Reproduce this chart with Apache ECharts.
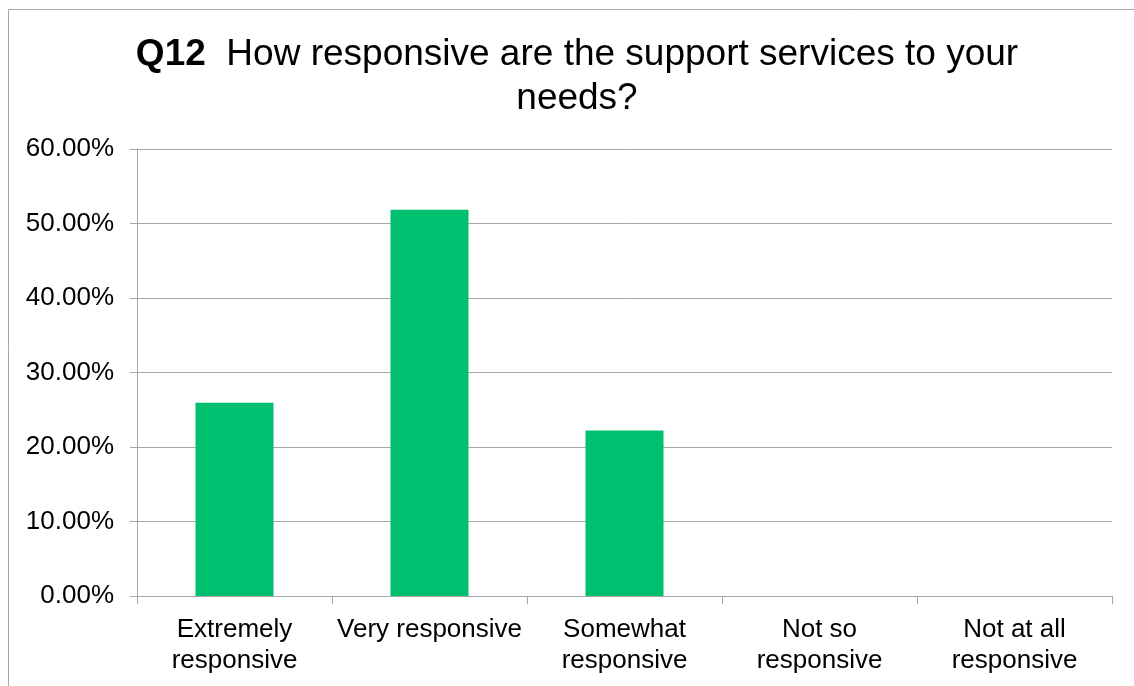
<!DOCTYPE html>
<html>
<head>
<meta charset="utf-8">
<script src="https://cdn.jsdelivr.net/npm/echarts@6/dist/echarts.min.js"></script>
<style>
  html, body { margin: 0; padding: 0; background: #fff; }
  #chart { width: 1134px; height: 686px; }
</style>
</head>
<body>
<div id="chart"></div>
<script>
// Survey answers and share of respondents (percent)
const categories = ['Extremely\nresponsive', 'Very responsive', 'Somewhat\nresponsive', 'Not so\nresponsive', 'Not at all\nresponsive'];
const shares = [25.93, 51.85, 22.22, 0, 0];
const yTicks = { min: 0, max: 60, interval: 10 };

const FONT = '"Liberation Sans", Arial, sans-serif';
const GRAY = '#a6a6a6';

const chart = echarts.init(document.getElementById('chart'), null, { renderer: 'canvas' });

chart.setOption({
  backgroundColor: '#ffffff',
  animation: false,
  title: {
    text: '{b|Q12}{n|  How responsive are the support services to your}\n{n|needs?}',
    left: 572,
    top: 28,
    textAlign: 'center',
    textStyle: {
      fontFamily: FONT,
      fontSize: 37,
      fontWeight: 'normal',
      color: '#000',
      lineHeight: 44,
      rich: {
        b: { fontFamily: FONT, fontSize: 37, fontWeight: 'bold', color: '#000', align: 'center', lineHeight: 44 },
        n: { fontFamily: FONT, fontSize: 37, fontWeight: 'normal', color: '#000', align: 'center', lineHeight: 44 }
      }
    }
  },
  graphic: [{
    type: 'rect',
    silent: true,
    z: -10,
    shape: { x: 8.5, y: 9.5, width: 1200, height: 800 },
    style: { fill: 'none', stroke: GRAY, lineWidth: 1 }
  }],
  grid: { left: 137, right: 22, top: 149, bottom: 90, containLabel: false },
  xAxis: {
    type: 'category',
    data: categories,
    axisLine: { show: true, lineStyle: { color: GRAY, width: 1 } },
    axisTick: { show: true, length: 8, alignWithLabel: false, lineStyle: { color: GRAY } },
    axisLabel: {
      interval: 0,
      margin: 18,
      color: '#000',
      fontFamily: FONT,
      fontSize: 26,
      lineHeight: 31
    },
    splitLine: { show: false }
  },
  yAxis: {
    type: 'value',
    min: yTicks.min,
    max: yTicks.max,
    interval: yTicks.interval,
    axisLine: { show: true, lineStyle: { color: GRAY, width: 1 } },
    axisTick: { show: true, length: 7, lineStyle: { color: GRAY } },
    axisLabel: {
      margin: 23,
      color: '#000',
      fontFamily: FONT,
      fontSize: 26,
      formatter: v => v.toFixed(2) + '%'
    },
    splitLine: { show: true, lineStyle: { color: GRAY, width: 1 } }
  },
  series: [{
    type: 'bar',
    data: shares,
    barWidth: '40%',
    itemStyle: { color: '#00bf6f' }
  }]
});
</script>
</body>
</html>
